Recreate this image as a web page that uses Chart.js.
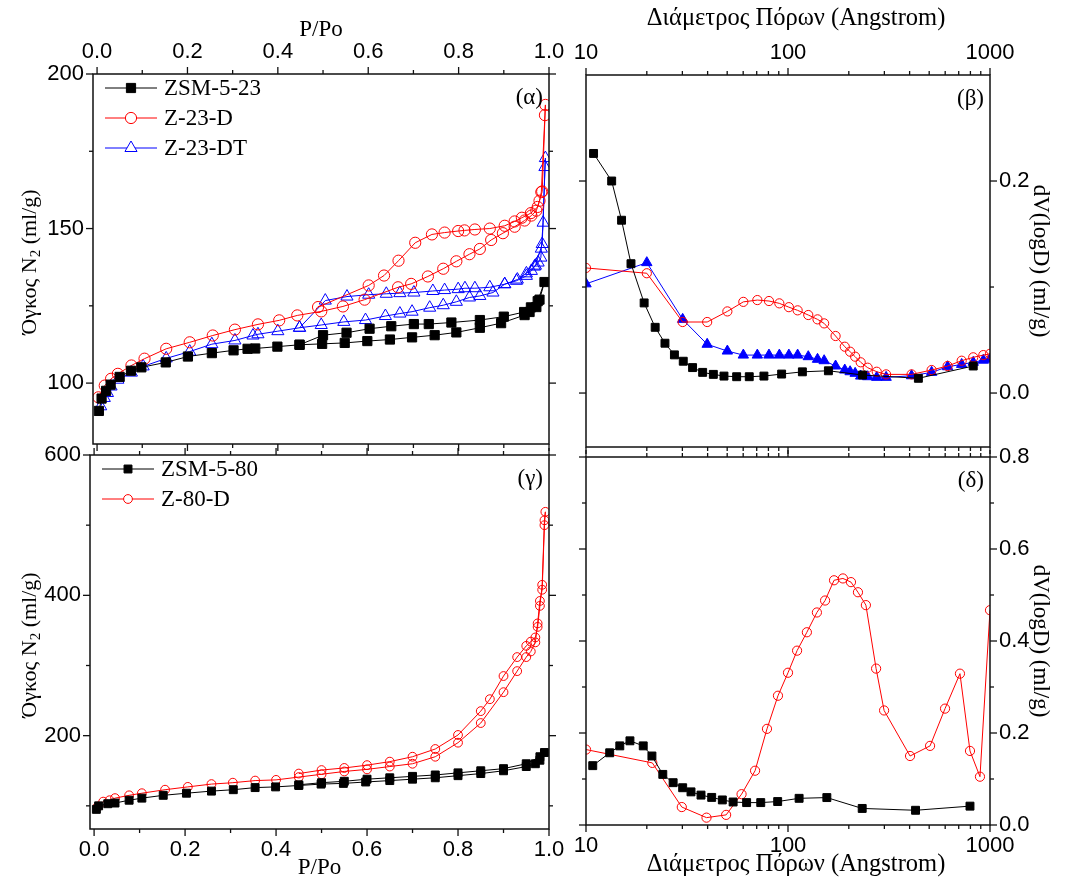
<!DOCTYPE html>
<html><head><meta charset="utf-8">
<script src="https://cdn.jsdelivr.net/npm/chart.js@4.4.1/dist/chart.umd.min.js"></script>
<style>
html,body{margin:0;padding:0;background:#fff;}
#wrap{position:relative;width:1065px;height:881px;overflow:hidden;background:#fff;}
canvas{position:absolute;left:0;top:0;}
</style></head><body>
<div id="wrap">
<canvas id="cA" width="1065" height="881"></canvas>
<canvas id="cB" width="1065" height="881"></canvas>
<canvas id="cG" width="1065" height="881"></canvas>
<canvas id="cD" width="1065" height="881"></canvas>
</div>
<script>
// ---------------- DATA ----------------
const namesA = ['ZSM-5-23','Z-23-D','Z-23-DT'];
const namesG = ['ZSM-5-80','Z-80-D'];
const titlePP = 'P/Po';
const titleD = 'Διάμετρος Πόρων (Angstrom)';
const titleVol = ['Όγκος N','2',' (ml/g)'];
const titleDV = 'dV(logD) (ml/g)';
const panelLabels = ['(α)','(β)','(γ)','(δ)'];

// tick values
const ppMajor = [0,0.2,0.4,0.6,0.8,1.0];
const ppMinor = [0.1,0.3,0.5,0.7,0.9];
const volAMajor = [100,150,200];
const volAMinor = [125,175];
const volGMajor = [200,400,600];
const volGMinor = [100,300,500];
const dMajor = [10,100,1000];
const dMinor = [20,30,40,50,60,70,80,90,200,300,400,500,600,700,800,900];
const dvBMajor = [0.0,0.2];
const dvBMinor = [0.1];
const dvDMajor = [0.0,0.2,0.4,0.6,0.8];
const dvDMinor = [0.1,0.3,0.5,0.7];

// (α) isotherms ZSM-5-23 family
const pA_ZSM = [0.004,0.01,0.02,0.03,0.05,0.075,0.098,0.152,0.201,0.254,0.302,0.333,0.350,0.399,0.448,0.498,0.548,0.598,0.648,0.697,0.747,0.795,0.847,0.894,0.946,0.957,0.972,0.979,0.990,
                0.975,0.96,0.945,0.9,0.847,0.784,0.734,0.701,0.651,0.603,0.552,0.500,0.448];
const vA_ZSM = [91,95,97.5,99.5,102,104,105.1,106.7,108.6,109.7,110.6,111.1,111.2,111.8,112.4,112.7,113.0,113.6,114.1,114.8,115.5,116.4,117.9,119.4,122.0,123.0,124.6,127.0,132.7,
                126.5,124.5,123.0,121.5,120.4,119.6,119.1,119.1,118.4,117.6,116.3,115.5,112.4];
const pA_D = [0.003,0.017,0.031,0.046,0.076,0.105,0.153,0.205,0.256,0.305,0.356,0.403,0.443,0.496,0.544,0.592,0.666,0.695,0.732,0.766,0.795,0.824,0.847,0.872,0.898,0.924,0.946,0.961,0.972,0.979,0.983,0.991,0.992,
              0.985,0.975,0.96,0.94,0.924,0.902,0.869,0.836,0.813,0.799,0.769,0.741,0.704,0.667,0.635,0.601,0.489];
const vA_D = [95.4,99.2,101.4,103.0,105.7,107.9,111.1,113.2,115.4,117.3,119.0,120.3,121.9,123.2,124.8,127.0,131.0,132.1,134.5,137.0,139.4,141.7,143.4,146.3,148.5,150.6,152.6,154.2,155.8,159,161.8,186.7,190,
              162,157,155,153.5,152.3,150.9,150.0,149.7,149.4,149.2,148.7,148.1,145.4,139.6,134.8,131.6,124.6];
const pA_DT = [0.008,0.016,0.023,0.031,0.046,0.076,0.102,0.153,0.205,0.254,0.305,0.345,0.356,0.400,0.448,0.496,0.546,0.594,0.638,0.670,0.697,0.736,0.766,0.795,0.824,0.847,0.876,0.902,0.928,0.950,0.961,0.968,0.976,0.982,0.983,0.987,0.991,0.992,
               0.985,0.97,0.95,0.93,0.902,0.869,0.836,0.814,0.799,0.769,0.743,0.701,0.670,0.640,0.601,0.553,0.505,0.448];
const vA_DT = [92.5,95.2,96.8,98.9,101.1,103.4,105.4,108.0,110.2,112.6,113.8,115.4,115.8,116.8,117.9,118.8,119.8,120.4,121.7,122.5,123.1,124.4,125.2,126.3,127.7,128.2,129.3,132.0,133.1,134.7,136.3,137.7,139.0,140.6,143.5,151.9,169.9,172.8,
               145,138,135.5,133.5,132,131.0,130.7,130.7,130.4,130.1,129.8,129.3,129.1,128.9,128.6,128.0,126.7,117.9];

// (β) pore size distributions
const dB_ZSM = [10.9,13.4,15.0,16.7,19.4,22.0,24.6,27.4,30.3,33.7,37.8,42.7,48.2,55.7,64.3,76.0,93.0,117.8,158.5,234,442,826];
const vB_ZSM = [0.226,0.200,0.163,0.122,0.085,0.062,0.047,0.036,0.030,0.024,0.0195,0.0176,0.016,0.0154,0.0154,0.016,0.0179,0.020,0.021,0.017,0.0139,0.0255];
const dB_D = [10,20.0,30.1,39.8,50.1,60.1,70.5,80.5,90.6,101,111.6,126,140,151,172,191,203,215,229,248,275,306,409,514,617,724,826,927,1000];
const vB_D = [0.118,0.113,0.067,0.067,0.077,0.086,0.0877,0.0868,0.0846,0.081,0.078,0.0736,0.0695,0.0657,0.0538,0.0437,0.039,0.0343,0.029,0.0239,0.0201,0.0176,0.0176,0.0217,0.0255,0.0305,0.0337,0.0358,0.037];
const dB_DT = [10,20.0,30.1,39.8,50.1,60.1,70.5,80.5,90.6,101,111.6,126,140,151,172,191,203,215,229,248,275,306,409,514,617,724,826,927,1000];
const vB_DT = [0.103,0.123,0.0695,0.046,0.0396,0.0358,0.0358,0.0358,0.0358,0.0358,0.0358,0.0343,0.0318,0.0305,0.0255,0.0217,0.0201,0.0186,0.016,0.0154,0.0148,0.0148,0.0163,0.0195,0.0248,0.027,0.029,0.031,0.032];

// (γ) isotherms ZSM-5-80 family
const pG_ZSM = [0.005,0.01,0.03,0.046,0.077,0.105,0.152,0.203,0.258,0.306,0.354,0.399,0.45,0.499,0.548,0.597,0.65,0.7,0.75,0.8,0.85,0.9,0.95,0.97,0.98,0.99,
                0.98,0.95,0.9,0.85,0.8,0.75,0.7,0.65,0.6,0.55,0.5,0.45];
const vG_ZSM = [95,100,103,104,108,111,115,118,121,123,126,127,129,131,132,134,136,138,140,143,146,150,156,160,165,176,
                170,160,153,150,147,144,142,140,138,135,133,130];
const pG_D = [0.008,0.02,0.034,0.046,0.077,0.105,0.156,0.206,0.258,0.305,0.354,0.40,0.45,0.5,0.55,0.6,0.65,0.7,0.75,0.8,0.85,0.9,0.93,0.95,0.96,0.97,0.975,0.98,0.985,0.99,0.992,
              0.99,0.985,0.98,0.975,0.97,0.96,0.95,0.93,0.9,0.87,0.85,0.8,0.75,0.7,0.65,0.6,0.55,0.5,0.45];
const vG_D = [99,106,108,111,115,118,123,127,131,133,136,137,141,145,149,152,156,160,170,190,218,262,292,312,320,333,360,392,408,500,519,
              507,415,385,355,340,334,328,312,285,252,235,201,181,170,163,158,154,151,146];

// (δ) pore size distributions
const dD_ZSM = [10.8,13.1,14.7,16.5,19.2,21.2,24.0,27.0,30.1,33.1,37.1,41.9,47.3,53.5,62.4,73.3,88.9,113.5,155.7,233,428,796];
const vD_ZSM = [0.129,0.157,0.172,0.183,0.172,0.150,0.11,0.092,0.081,0.072,0.065,0.060,0.0545,0.050,0.0487,0.0487,0.051,0.058,0.0596,0.036,0.032,0.041];
const dD_D = [10,21.3,29.8,39.5,49.4,58.9,68.7,78.7,89.2,100,110.9,124,139,152.6,169,187,205,222,243,273,299,402,505,599,710,796,892,1000];
const vD_D = [0.164,0.135,0.039,0.016,0.022,0.067,0.118,0.209,0.281,0.331,0.379,0.419,0.462,0.488,0.532,0.536,0.528,0.506,0.478,0.34,0.249,0.150,0.172,0.253,0.329,0.161,0.105,0.467];

// ---------------- STYLE / HELPERS ----------------
const W = 1065, H = 881;
const SANS = '"Liberation Sans", Arial, sans-serif';
const SERIF = '"Liberation Serif", "Times New Roman", serif';
const BLACK = '#000000', RED = '#ff0000', BLUE = '#0000ff';
const TICK_FONT = 22;

const panelInfo = {};

function axis(chartId, id, o) {
  const all = [...o.major, ...o.minor].filter(v => v >= o.min - 1e-9 && v <= o.max + 1e-9).sort((a, b) => a - b);
  panelInfo[chartId].ticks[id] = {major: o.major, minor: o.minor, pos: o.pos};
  return {
    type: o.type || 'linear', axis: (o.pos === 'left' || o.pos === 'right') ? 'y' : 'x',
    position: o.pos, min: o.min, max: o.max,
    grid: {display: false, drawTicks: true, tickLength: 7},
    border: {display: false},
    ticks: {display: !!o.labels, autoSkip: false, maxRotation: 0, minRotation: 0, padding: o.pad == null ? 2 : o.pad,
      color: '#000', font: {family: SANS, size: TICK_FONT},
      callback: (v) => o.major.includes(v) ? o.fmt(v) : ''},
    afterBuildTicks: (s) => { s.ticks = all.map(v => ({value: v})); },
    afterFit: (s) => { if (o.pos === 'left' || o.pos === 'right') s.width = o.size; else s.height = o.size; }
  };
}

function ds(label, xs, ys, color, style, r, filled) {
  return {
    label, data: xs.map((x, i) => ({x, y: ys[i]})), showLine: true,
    borderColor: color, borderWidth: 1, tension: 0, fill: false,
    pointStyle: style, pointRadius: r, pointHoverRadius: r, pointBorderWidth: 1,
    pointBorderColor: color, pointBackgroundColor: filled ? color : 'rgba(0,0,0,0)'
  };
}

function drawMarker(ctx, style, x, y, r, color, filled) {
  ctx.beginPath();
  if (style === 'rect') {
    const s = Math.SQRT1_2 * r; ctx.rect(x - s, y - s, 2 * s, 2 * s);
  } else if (style === 'circle') {
    ctx.arc(x, y, r, 0, Math.PI * 2);
  } else if (style === 'triangle') {
    for (let k = 0; k < 3; k++) {
      const a = k * 2 * Math.PI / 3;
      const px = x + Math.sin(a) * r, py = y - Math.cos(a) * r;
      if (k === 0) ctx.moveTo(px, py); else ctx.lineTo(px, py);
    }
    ctx.closePath();
  }
  if (filled) { ctx.fillStyle = color; ctx.fill(); }
  else { ctx.fillStyle = '#fff'; ctx.fill(); }
  ctx.strokeStyle = color; ctx.lineWidth = 1; ctx.stroke();
}

const decorPlugin = {
  id: 'decor',
  afterDraw(chart) {
    const ctx = chart.ctx, a = chart.chartArea, info = panelInfo[chart.canvas.id];
    ctx.save();
    // frame
    ctx.strokeStyle = '#111'; ctx.lineWidth = 1.5;
    ctx.strokeRect(a.left, a.top, a.right - a.left, a.bottom - a.top);
    // ticks
    ctx.lineWidth = 1.3;
    for (const id in info.ticks) {
      const t = info.ticks[id], s = chart.scales[id];
      const list = [...t.major.map(v => [v, 7]), ...t.minor.map(v => [v, 4])];
      for (const [v, len] of list) {
        if (v < s.min - 1e-9 || v > s.max + 1e-9) continue;
        const p = s.getPixelForValue(v);
        ctx.beginPath();
        if (t.pos === 'left') { ctx.moveTo(a.left, p); ctx.lineTo(a.left - len, p); }
        else if (t.pos === 'right') { ctx.moveTo(a.right, p); ctx.lineTo(a.right + len, p); }
        else if (t.pos === 'top') { ctx.moveTo(p, a.top); ctx.lineTo(p, a.top - len); }
        else { ctx.moveTo(p, a.bottom); ctx.lineTo(p, a.bottom + len); }
        ctx.stroke();
      }
    }
    ctx.fillStyle = '#000';
    ctx.textBaseline = 'middle';
    // panel label
    ctx.font = '23px ' + SERIF;
    ctx.textAlign = 'right';
    ctx.fillText(info.label, a.right - 6, a.top + 24);
    // x title
    ctx.textAlign = 'center';
    if (info.xTitle) {
      ctx.font = info.xTitle.size + 'px ' + SERIF;
      ctx.fillText(info.xTitle.text, (a.left + a.right) / 2 + info.xTitle.dx, info.xTitle.y);
    }
    // y title
    const cy = (a.top + a.bottom) / 2;
    if (info.yTitle === 'left') {
      ctx.save();
      ctx.translate(30, cy + 3); ctx.rotate(-Math.PI / 2);
      ctx.font = '22px ' + SERIF;
      const w1 = ctx.measureText(titleVol[0]).width;
      ctx.font = '15px ' + SERIF;
      const w2 = ctx.measureText(titleVol[1]).width;
      ctx.font = '22px ' + SERIF;
      const w3 = ctx.measureText(titleVol[2]).width;
      let x0 = -(w1 + w2 + w3) / 2;
      ctx.textAlign = 'left';
      ctx.fillText(titleVol[0], x0, 0);
      ctx.font = '15px ' + SERIF;
      ctx.fillText(titleVol[1], x0 + w1, 6);
      ctx.font = '22px ' + SERIF;
      ctx.fillText(titleVol[2], x0 + w1 + w2, 0);
      ctx.restore();
    } else if (info.yTitle === 'right') {
      ctx.save();
      ctx.translate(1040, cy); ctx.rotate(Math.PI / 2);
      ctx.textAlign = 'center';
      ctx.font = '23px ' + SERIF;
      ctx.fillText(titleDV, 0, 0);
      ctx.restore();
    }
    // legend
    if (info.legend) {
      chart.data.datasets.forEach((d, i) => {
        const y = a.top + 14 + 30 * i;
        const x0 = a.left + 12;
        ctx.strokeStyle = d.borderColor; ctx.lineWidth = 1;
        ctx.beginPath(); ctx.moveTo(x0, y); ctx.lineTo(x0 + 52, y); ctx.stroke();
        drawMarker(ctx, d.pointStyle, x0 + 26, y, d.pointRadius, d.borderColor, d.pointBackgroundColor !== 'rgba(0,0,0,0)');
        ctx.fillStyle = '#000';
        ctx.textAlign = 'left';
        ctx.font = '23px ' + SERIF;
        ctx.fillText(d.label, x0 + 59, y + 1);
      });
    }
    ctx.restore();
  }
};

const baseOptions = () => ({
  responsive: false, animation: false, devicePixelRatio: 1, events: [],
  layout: {padding: 0},
  plugins: {legend: {display: false}, tooltip: {enabled: false}, title: {display: false}}
});

const fmt1 = v => v.toFixed(1);
const fmt0 = v => String(v);

// ---------------- PANEL α ----------------
panelInfo.cA = {ticks: {}, label: panelLabels[0], xTitle: {text: titlePP, y: 30, dx: 0, size: 23}, yTitle: 'left', legend: true};
{
  const o = baseOptions();
  o.scales = {
    x: axis('cA', 'x', {pos: 'bottom', min: -0.009, max: 1.0, major: ppMajor, minor: ppMinor, labels: false, fmt: fmt1, size: H - 444}),
    x2: axis('cA', 'x2', {pos: 'top', min: -0.009, max: 1.0, major: ppMajor, minor: ppMinor, labels: true, fmt: fmt1, size: 74, pad: 2}),
    y: axis('cA', 'y', {pos: 'left', min: 80.3, max: 200, major: volAMajor, minor: volAMinor, labels: true, fmt: fmt0, size: 93, pad: 2}),
    y2: axis('cA', 'y2', {pos: 'right', min: 80.3, max: 200, major: volAMajor, minor: volAMinor, labels: false, fmt: fmt0, size: W - 549})
  };
  new Chart(document.getElementById('cA'), {
    type: 'scatter',
    data: {datasets: [
      ds(namesA[0], pA_ZSM, vA_ZSM, BLACK, 'rect', 6.5, true),
      ds(namesA[1], pA_D, vA_D, RED, 'circle', 5.6, false),
      ds(namesA[2], pA_DT, vA_DT, BLUE, 'triangle', 7, false)
    ]},
    options: o, plugins: [decorPlugin]
  });
}

// ---------------- PANEL β ----------------
panelInfo.cB = {ticks: {}, label: panelLabels[1], xTitle: {text: titleD, y: 19, dx: 8, size: 24.5}, yTitle: 'right', legend: false};
{
  const o = baseOptions();
  o.scales = {
    x: axis('cB', 'x', {type: 'logarithmic', pos: 'bottom', min: 10, max: 1000, major: dMajor, minor: dMinor, labels: false, fmt: fmt0, size: H - 447}),
    x2: axis('cB', 'x2', {type: 'logarithmic', pos: 'top', min: 10, max: 1000, major: dMajor, minor: dMinor, labels: true, fmt: fmt0, size: 75, pad: 2}),
    y2: axis('cB', 'y2', {pos: 'left', min: -0.0509, max: 0.3, major: dvBMajor, minor: dvBMinor, labels: false, fmt: fmt1, size: 586}),
    y: axis('cB', 'y', {pos: 'right', min: -0.0509, max: 0.3, major: dvBMajor, minor: dvBMinor, labels: true, fmt: fmt1, size: W - 990, pad: 2})
  };
  new Chart(document.getElementById('cB'), {
    type: 'scatter',
    data: {datasets: [
      ds(namesA[0], dB_ZSM, vB_ZSM, BLACK, 'rect', 5.6, true),
      ds(namesA[1], dB_D, vB_D, RED, 'circle', 4.6, false),
      ds(namesA[2], dB_DT, vB_DT, BLUE, 'triangle', 6, true)
    ]},
    options: o, plugins: [decorPlugin]
  });
}

// ---------------- PANEL γ ----------------
panelInfo.cG = {ticks: {}, label: panelLabels[2], xTitle: {text: titlePP, y: 868, dx: 0, size: 23}, yTitle: 'left', legend: true};
{
  const o = baseOptions();
  o.scales = {
    x: axis('cG', 'x', {pos: 'bottom', min: -0.009, max: 1.0, major: ppMajor, minor: ppMinor, labels: true, fmt: fmt1, size: H - 829, pad: 1}),
    x2: axis('cG', 'x2', {pos: 'top', min: -0.009, max: 1.0, major: ppMajor, minor: ppMinor, labels: false, fmt: fmt1, size: 455}),
    y: axis('cG', 'y', {pos: 'left', min: 67, max: 600, major: volGMajor, minor: volGMinor, labels: true, fmt: fmt0, size: 90, pad: 2}),
    y2: axis('cG', 'y2', {pos: 'right', min: 67, max: 600, major: volGMajor, minor: volGMinor, labels: false, fmt: fmt0, size: W - 549})
  };
  new Chart(document.getElementById('cG'), {
    type: 'scatter',
    data: {datasets: [
      ds(namesG[0], pG_ZSM, vG_ZSM, BLACK, 'rect', 5.6, true),
      ds(namesG[1], pG_D, vG_D, RED, 'circle', 4.4, false)
    ]},
    options: o, plugins: [decorPlugin]
  });
}

// ---------------- PANEL δ ----------------
panelInfo.cD = {ticks: {}, label: panelLabels[3], xTitle: {text: titleD, y: 865, dx: 8, size: 24.5}, yTitle: 'right', legend: false};
{
  const o = baseOptions();
  o.scales = {
    x: axis('cD', 'x', {type: 'logarithmic', pos: 'bottom', min: 10, max: 1000, major: dMajor, minor: dMinor, labels: true, fmt: fmt0, size: H - 825, pad: 1}),
    x2: axis('cD', 'x2', {type: 'logarithmic', pos: 'top', min: 10, max: 1000, major: dMajor, minor: dMinor, labels: false, fmt: fmt0, size: 457}),
    y2: axis('cD', 'y2', {pos: 'left', min: 0, max: 0.8, major: dvDMajor, minor: dvDMinor, labels: false, fmt: fmt1, size: 586}),
    y: axis('cD', 'y', {pos: 'right', min: 0, max: 0.8, major: dvDMajor, minor: dvDMinor, labels: true, fmt: fmt1, size: W - 990, pad: 2})
  };
  new Chart(document.getElementById('cD'), {
    type: 'scatter',
    data: {datasets: [
      ds(namesG[0], dD_ZSM, vD_ZSM, BLACK, 'rect', 5.6, true),
      ds(namesG[1], dD_D, vD_D, RED, 'circle', 4.6, false)
    ]},
    options: o, plugins: [decorPlugin]
  });
}
</script>
</body></html>
